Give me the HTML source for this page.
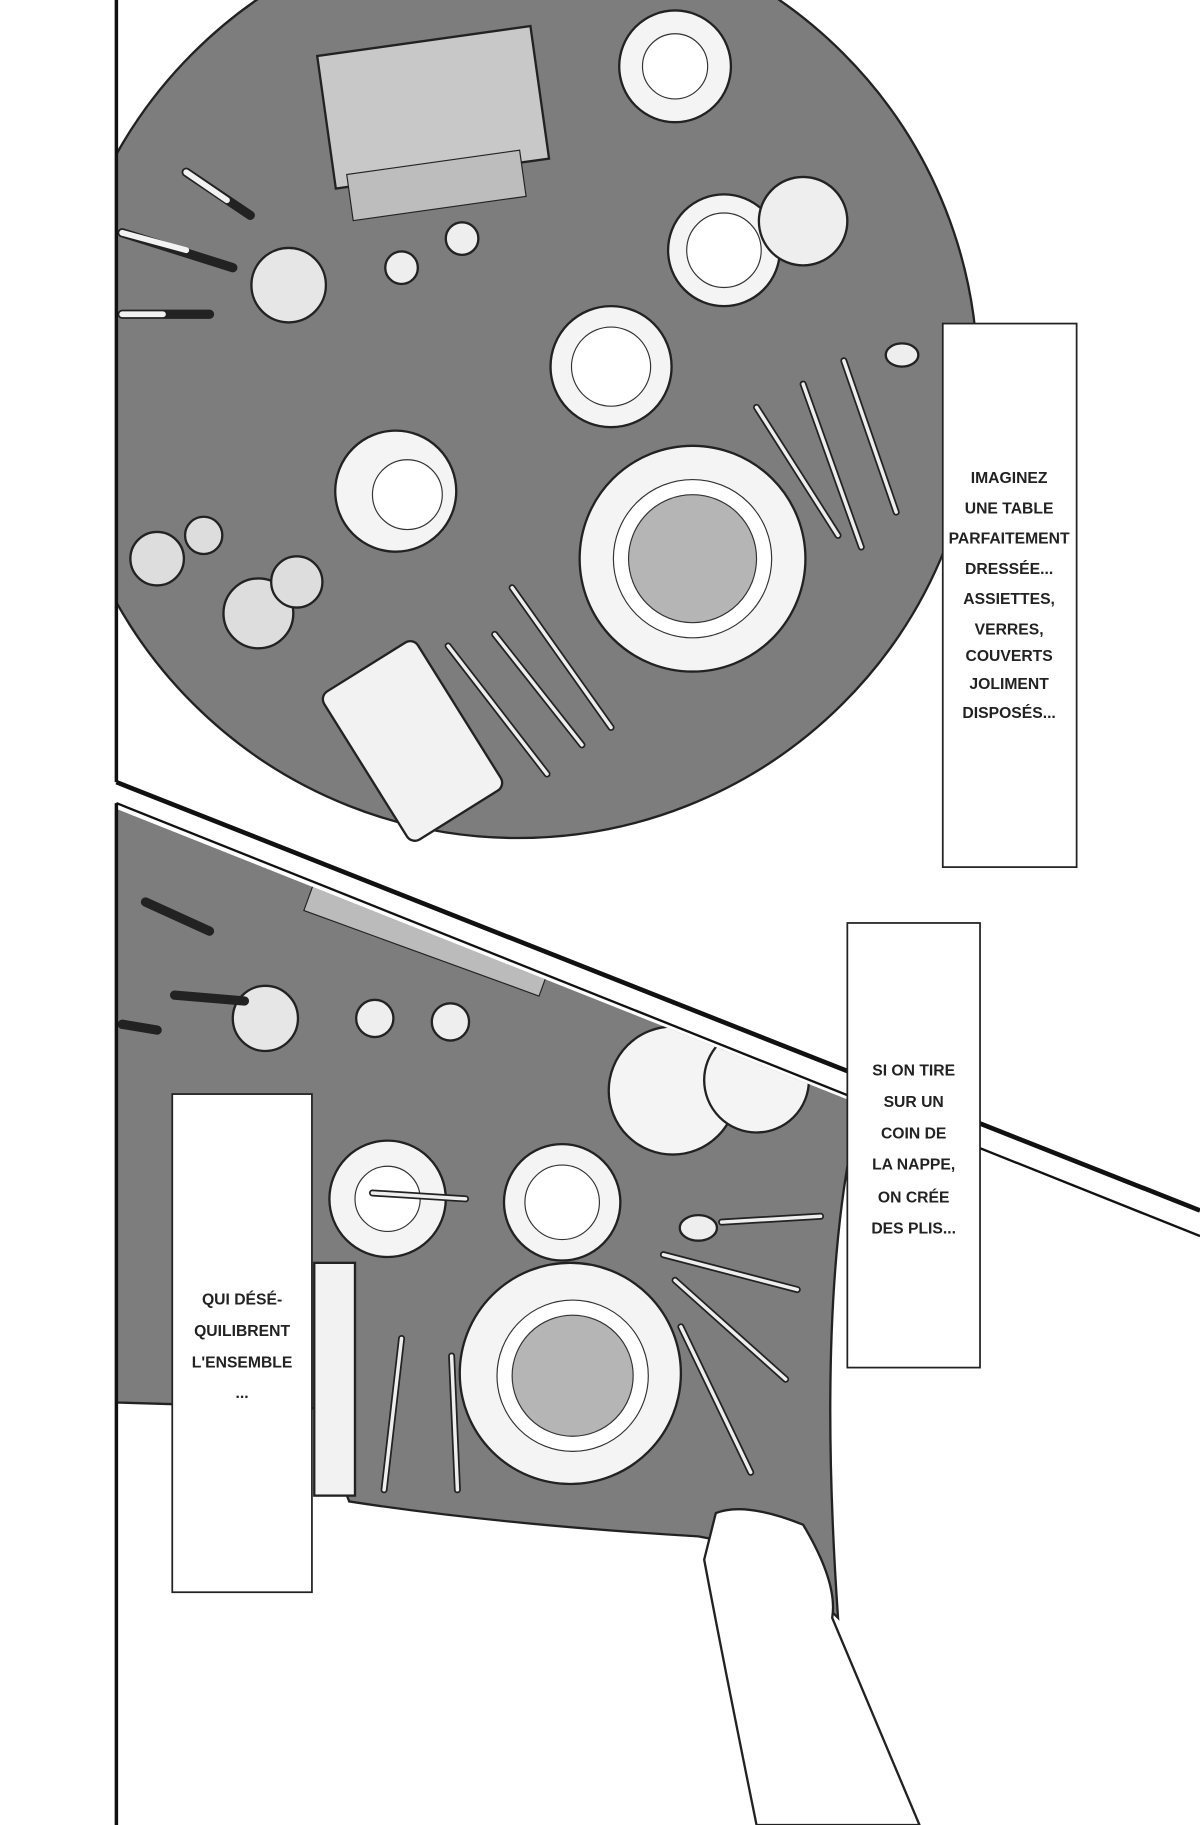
<!DOCTYPE html>
<html><head><meta charset="utf-8"><style>
html,body{margin:0;padding:0;background:#fff;}
svg{display:block;}
text{font-family:"Liberation Sans",sans-serif;font-weight:bold;font-size:13.5px;fill:#222;text-anchor:middle;}
</style></head><body>
<svg width="1200" height="1825" viewBox="0 0 1031 1568" preserveAspectRatio="none" xmlns="http://www.w3.org/2000/svg">
<rect width="1031" height="1568" fill="#fff"/>
<clipPath id="c1"><polygon points="100,0 1031,0 1031,1040 100,672"/></clipPath>
<g clip-path="url(#c1)">
<circle cx="445" cy="325" r="395" fill="#7d7d7d" stroke="#222" stroke-width="2"/>
<rect x="280" y="35" width="185" height="115" transform="rotate(-8 370 95)" fill="#c8c8c8" stroke="#222" stroke-width="2"/>
<rect x="300" y="140" width="150" height="40" transform="rotate(-8 370 160)" fill="#bdbdbd" stroke="#222"/>
<circle cx="580" cy="57" r="48" fill="#f4f4f4" stroke="#222" stroke-width="2"/>
<circle cx="580" cy="57" r="28" fill="#fff" stroke="#333"/>
<circle cx="622" cy="215" r="48" fill="#f4f4f4" stroke="#222" stroke-width="2"/>
<circle cx="622" cy="215" r="32" fill="#fff" stroke="#333"/>
<circle cx="690" cy="190" r="38" fill="#eee" stroke="#222" stroke-width="2"/>
<circle cx="525" cy="315" r="52" fill="#f4f4f4" stroke="#222" stroke-width="2"/>
<circle cx="525" cy="315" r="34" fill="#fff" stroke="#333"/>
<circle cx="340" cy="422" r="52" fill="#f4f4f4" stroke="#222" stroke-width="2"/>
<circle cx="350" cy="425" r="30" fill="#fff" stroke="#333"/>
<circle cx="595" cy="480" r="97" fill="#f4f4f4" stroke="#222" stroke-width="2"/>
<circle cx="595" cy="480" r="68" fill="#fff" stroke="#333"/>
<circle cx="595" cy="480" r="55" fill="#b5b5b5" stroke="#333"/>
<rect x="305" y="555" width="95" height="150" rx="8" transform="rotate(-32 365 630)" fill="#f2f2f2" stroke="#222" stroke-width="2"/>
<g stroke="#222" stroke-width="6" stroke-linecap="round"><line x1="650" y1="350" x2="720" y2="460"/><line x1="690" y1="330" x2="740" y2="470"/><line x1="725" y1="310" x2="770" y2="440"/><line x1="385" y1="555" x2="470" y2="665"/><line x1="425" y1="545" x2="500" y2="640"/><line x1="440" y1="505" x2="525" y2="625"/></g>
<g stroke="#eee" stroke-width="3" stroke-linecap="round"><line x1="650" y1="350" x2="720" y2="460"/><line x1="690" y1="330" x2="740" y2="470"/><line x1="725" y1="310" x2="770" y2="440"/><line x1="385" y1="555" x2="470" y2="665"/><line x1="425" y1="545" x2="500" y2="640"/><line x1="440" y1="505" x2="525" y2="625"/></g>
<ellipse cx="775" cy="305" rx="14" ry="10" fill="#eee" stroke="#222" stroke-width="2"/>
<circle cx="135" cy="480" r="23" fill="#ddd" stroke="#222" stroke-width="2"/>
<circle cx="175" cy="460" r="16" fill="#ddd" stroke="#222" stroke-width="2"/>
<circle cx="222" cy="527" r="30" fill="#ddd" stroke="#222" stroke-width="2"/>
<circle cx="255" cy="500" r="22" fill="#ddd" stroke="#222" stroke-width="2"/>
<circle cx="345" cy="230" r="14" fill="#eee" stroke="#222" stroke-width="2"/>
<circle cx="397" cy="205" r="14" fill="#eee" stroke="#222" stroke-width="2"/>
<circle cx="248" cy="245" r="32" fill="#e6e6e6" stroke="#222" stroke-width="2"/>
<g stroke="#222" stroke-width="8" stroke-linecap="round"><line x1="105" y1="200" x2="200" y2="230"/><line x1="105" y1="270" x2="180" y2="270"/><line x1="160" y1="148" x2="215" y2="185"/></g>
<g stroke="#f2f2f2" stroke-width="5" stroke-linecap="round"><line x1="105" y1="200" x2="160" y2="215"/><line x1="105" y1="270" x2="140" y2="270"/><line x1="160" y1="148" x2="195" y2="172"/></g>
</g>
<line x1="100" y1="0" x2="100" y2="672" stroke="#111" stroke-width="3"/>
<line x1="100" y1="672" x2="1031" y2="1040" stroke="#111" stroke-width="4"/>
<line x1="100" y1="690" x2="1031" y2="1062" stroke="#111" stroke-width="2"/>
<clipPath id="c2"><polygon points="100,695 1031,1065 1031,1568 100,1568"/></clipPath>
<g clip-path="url(#c2)">
<path d="M100,690 L740,945 Q700,1100 720,1390 Q660,1330 600,1320 Q430,1310 300,1290 L270,1210 L100,1205 Z" fill="#7d7d7d" stroke="#222" stroke-width="2"/>
<rect x="265" y="765" width="215" height="55" transform="rotate(20 370 790)" fill="#bbb" stroke="#222"/>
<circle cx="578" cy="937" r="55" fill="#f4f4f4" stroke="#222" stroke-width="2"/>
<circle cx="650" cy="928" r="45" fill="#f4f4f4" stroke="#222" stroke-width="2"/>
<circle cx="483" cy="1033" r="50" fill="#f4f4f4" stroke="#222" stroke-width="2"/>
<circle cx="483" cy="1033" r="32" fill="#fff" stroke="#333"/>
<circle cx="333" cy="1030" r="50" fill="#f4f4f4" stroke="#222" stroke-width="2"/>
<circle cx="333" cy="1030" r="28" fill="#fff" stroke="#333"/>
<circle cx="490" cy="1180" r="95" fill="#f4f4f4" stroke="#222" stroke-width="2"/>
<circle cx="492" cy="1182" r="65" fill="#fff" stroke="#333"/>
<circle cx="492" cy="1182" r="52" fill="#b5b5b5" stroke="#333"/>
<rect x="270" y="1085" width="35" height="200" fill="#f2f2f2" stroke="#222" stroke-width="2"/>
<g stroke="#222" stroke-width="6" stroke-linecap="round"><line x1="320" y1="1025" x2="400" y2="1030"/><line x1="570" y1="1078" x2="685" y2="1108"/><line x1="580" y1="1100" x2="675" y2="1185"/><line x1="585" y1="1140" x2="645" y2="1265"/><line x1="345" y1="1150" x2="330" y2="1280"/><line x1="388" y1="1165" x2="393" y2="1280"/><line x1="620" y1="1050" x2="705" y2="1045"/></g>
<g stroke="#eee" stroke-width="3" stroke-linecap="round"><line x1="320" y1="1025" x2="400" y2="1030"/><line x1="570" y1="1078" x2="685" y2="1108"/><line x1="580" y1="1100" x2="675" y2="1185"/><line x1="585" y1="1140" x2="645" y2="1265"/><line x1="345" y1="1150" x2="330" y2="1280"/><line x1="388" y1="1165" x2="393" y2="1280"/><line x1="620" y1="1050" x2="705" y2="1045"/></g>
<ellipse cx="600" cy="1055" rx="16" ry="11" fill="#eee" stroke="#222" stroke-width="2"/>
<circle cx="322" cy="875" r="16" fill="#eee" stroke="#222" stroke-width="2"/>
<circle cx="387" cy="878" r="16" fill="#eee" stroke="#222" stroke-width="2"/>
<circle cx="228" cy="875" r="28" fill="#e6e6e6" stroke="#222" stroke-width="2"/>
<g stroke="#222" stroke-width="8" stroke-linecap="round"><line x1="125" y1="775" x2="180" y2="800"/><line x1="105" y1="880" x2="135" y2="885"/><line x1="150" y1="855" x2="210" y2="860"/></g>
<path d="M615,1300 Q640,1290 690,1310 Q720,1360 715,1390 L790,1568 L650,1568 Q620,1420 605,1340 Z" fill="#fff" stroke="#222" stroke-width="2"/>
</g>
<line x1="100" y1="690" x2="100" y2="1568" stroke="#111" stroke-width="3"/>
<rect x="810" y="278" width="115" height="467" fill="#fff" stroke="#222" stroke-width="1.5"/>
<g>
<text x="867" y="415">IMAGINEZ</text><text x="867" y="441">UNE TABLE</text><text x="867" y="467">PARFAITEMENT</text><text x="867" y="493">DRESSÉE...</text><text x="867" y="519">ASSIETTES,</text><text x="867" y="545">VERRES,</text><text x="867" y="568">COUVERTS</text><text x="867" y="592">JOLIMENT</text><text x="867" y="617">DISPOSÉS...</text>
</g>
<rect x="728" y="793" width="114" height="382" fill="#fff" stroke="#222" stroke-width="1.5"/>
<g>
<text x="785" y="924">SI ON TIRE</text><text x="785" y="951">SUR UN</text><text x="785" y="978">COIN DE</text><text x="785" y="1005">LA NAPPE,</text><text x="785" y="1033">ON CRÉE</text><text x="785" y="1060">DES PLIS...</text>
</g>
<rect x="148" y="940" width="120" height="428" fill="#fff" stroke="#222" stroke-width="1.5"/>
<g>
<text x="208" y="1121">QUI DÉSÉ-</text><text x="208" y="1148">QUILIBRENT</text><text x="208" y="1175">L'ENSEMBLE</text><text x="208" y="1201">...</text>
</g>
</svg>
</body></html>
